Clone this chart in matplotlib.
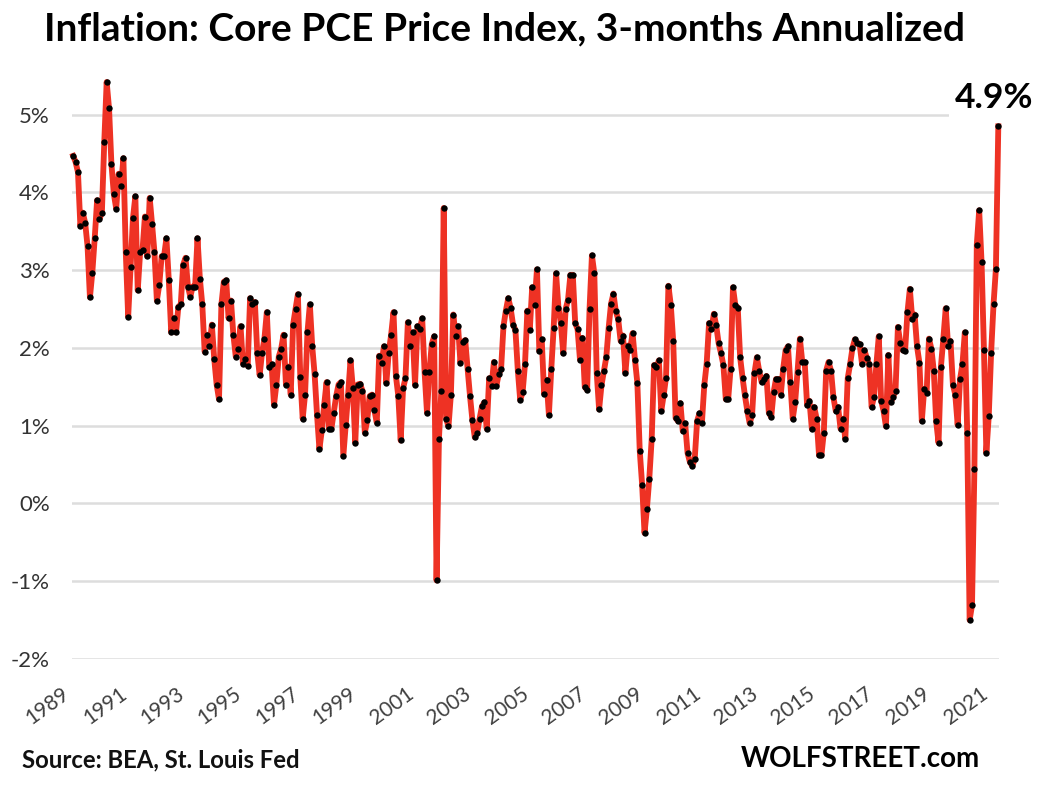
import numpy as np
import matplotlib
matplotlib.use("Agg")
import matplotlib.pyplot as plt

years = [str(y) for y in range(1989, 2022, 2)]
yticks = [-2, -1, 0, 1, 2, 3, 4, 5]
ylabels = ["-2%", "-1%", "0%", "1%", "2%", "3%", "4%", "5%"]

vals_1989_1996 = [
    4.47,4.39,4.26,3.57,3.74,3.61,3.31,2.65,2.97,3.41,3.90,3.66,3.74,4.65,5.42,5.08,4.36,3.98,3.79,4.24,
    4.08,4.44,3.23,2.40,3.04,3.67,3.95,2.74,3.23,3.26,3.69,3.18,3.93,3.59,3.23,2.61,2.81,3.18,3.18,3.41,
    2.87,2.20,2.38,2.20,2.53,2.56,3.07,3.16,2.79,2.66,2.79,2.79,3.41,2.89,2.56,1.95,2.17,2.02,2.30,1.86,
    1.53,1.34,2.56,2.85,2.87,2.38,2.61,2.17,1.89,1.99,2.28,1.80,1.86,1.77,2.64,2.56,2.59,1.94,1.65,1.94,
    2.12,2.46,1.76,1.79,1.27,1.53,1.89,1.99,2.17,1.53,1.76,1.40,2.30,2.50,2.69]
vals_1996_2004 = [
    1.63,1.09,1.40,2.20,2.56,2.02,1.66,1.14,0.70,0.94,1.27,1.56,0.96,0.96,1.17,1.38,1.53,1.56,0.61,1.01,
    1.40,1.84,1.48,0.78,1.53,1.54,1.45,0.91,1.07,1.38,1.40,1.20,1.04,1.90,1.81,2.02,1.55,1.94,2.17,2.46,
    1.64,1.38,0.81,1.48,1.61,2.33,2.02,2.20,1.53,2.28,2.25,2.38,1.69,1.17,1.69,2.05,2.15,-0.99,0.83,1.45,
    3.80,1.09,0.99,1.40,2.43,2.15,2.28,1.81,2.08,2.10,1.73,1.38,1.07,0.85,0.91,1.09,1.25,1.30,0.96,1.61,
    1.51,1.82,1.51,1.66,1.73,2.28,2.48,2.64,2.51,2.30,2.23,1.71,1.33,1.43,1.79,2.48,2.23]
vals_2005_2012 = [
    2.78,2.55,3.01,1.96,2.11,1.41,1.59,1.14,1.73,2.26,2.96,2.52,2.32,1.93,2.50,2.62,2.94,2.94,2.32,2.24,
    1.85,2.13,1.50,1.46,2.50,3.19,2.96,1.68,1.21,1.52,1.70,1.88,2.26,2.57,2.70,2.47,2.37,2.09,2.16,1.68,
    2.03,1.98,2.19,1.85,1.55,0.68,0.24,-0.38,-0.07,0.32,0.83,1.78,1.75,1.84,1.19,1.39,1.62,2.80,2.55,2.09,
    1.10,1.06,1.29,0.93,1.03,0.65,0.53,0.48,0.57,1.06,1.16,1.03,1.52,1.80,2.32,2.24,2.44,2.29,2.06,1.93,
    1.78,1.34,1.34,1.73,2.78,2.55,2.52,1.88,1.62,1.39,1.19,1.03,1.14,1.68,1.88,1.70]
vals_2013_2021 = [
    1.56,1.60,1.64,1.17,1.11,1.43,1.60,1.60,1.40,1.73,1.97,2.02,1.56,1.09,1.30,1.69,2.12,1.82,1.82,1.27,
    1.32,0.96,1.24,1.09,0.62,0.62,0.91,1.71,1.82,1.71,1.37,1.19,1.24,0.96,1.09,0.83,1.61,1.79,2.00,2.11,
    2.07,2.05,1.79,1.97,1.87,1.79,1.24,1.37,1.79,2.15,1.32,1.19,0.99,1.91,1.30,1.37,1.45,2.27,2.07,1.97,
    1.96,2.46,2.76,2.37,2.43,2.02,1.81,1.06,1.47,1.42,2.12,1.99,1.71,1.06,0.78,1.76,2.12,2.51,2.02,2.09,
    1.53,1.40,1.01,1.60,1.79,2.20,0.91,-1.50,-1.31,0.44,3.33,3.77,3.10,1.97,0.65,1.12,1.94,2.56,3.02,4.85]

values = vals_1989_1996 + vals_1996_2004 + vals_2005_2012 + vals_2013_2021
months = np.arange(len(values))

W, H = 1038, 786
fig = plt.figure(figsize=(W / 100, H / 100), dpi=100, facecolor="white")
FONT = "Lato"

left, right = 72, 999.5
y_bottom_px, per_pct = 659, 77.76
ymax = 5.6
top_px = y_bottom_px - (ymax + 2) * per_pct
ax = fig.add_axes([left / W, 1 - y_bottom_px / H, (right - left) / W, (y_bottom_px - top_px) / H])
ax.set_xlim(-0.5, len(values) - 0.5)
ax.set_ylim(-2, ymax)
for s in ax.spines.values():
    s.set_visible(False)

ax.grid(axis="y", color="#dddddd", linewidth=1.8, zorder=0)
ax.set_axisbelow(True)
ax.set_yticks(yticks)
ax.set_yticklabels(ylabels, fontname=FONT, fontsize=16, color="#333333")
ax.tick_params(axis="y", length=0, pad=16)
ax.tick_params(axis="x", length=0, pad=18)
ax.set_xticks(months[::24])
ax.set_xticklabels(years, fontname=FONT, fontsize=15, color="#404040", rotation=36, ha="right")

ax.plot(months, values, color="#EE3224", linewidth=4.2, solid_joinstyle="round",
        marker="o", markersize=4.6, markerfacecolor="black", markeredgecolor="black",
        markeredgewidth=0, clip_on=False, zorder=3)

def ptext(x, y, s, **kw):
    return fig.text(x / W, 1 - y / H, s, fontname=FONT, va="center", **kw)

ptext(504, 29, "Inflation: Core PCE Price Index, 3-months Annualized", fontsize=28,
      fontweight="bold", color="black", ha="center")
ptext(994, 98, "4.9%", fontsize=25.5, fontweight="bold", color="black", ha="center",
      bbox=dict(facecolor="white", edgecolor="none", pad=4), zorder=2)
ptext(22, 760, "Source: BEA, St. Louis Fed", fontsize=17.2, fontweight="bold", color="#111111", ha="left")
ptext(980, 759, "WOLFSTREET.com", fontsize=20, fontweight="bold", color="black", ha="right")

fig.savefig("out.png", dpi=100)
